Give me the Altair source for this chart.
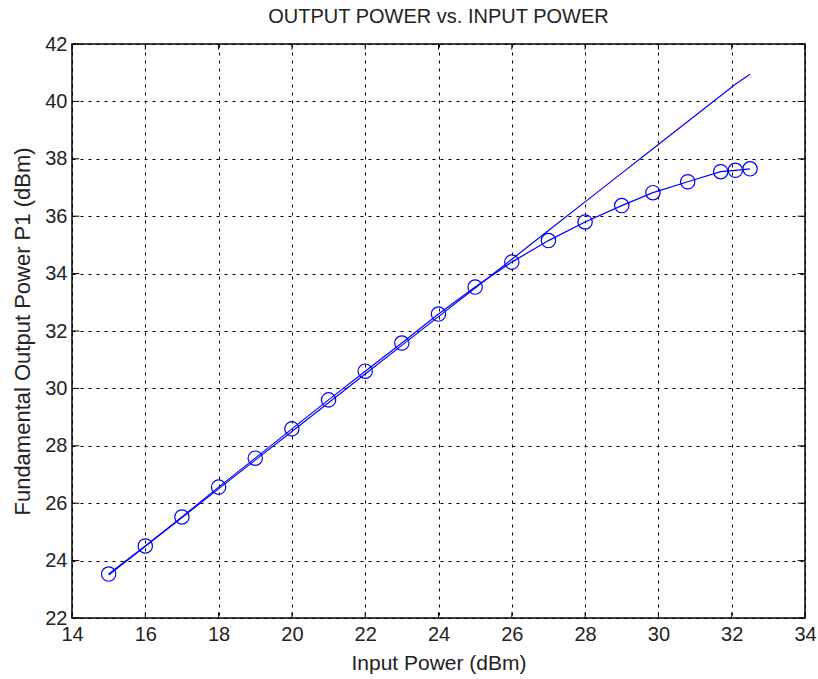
import altair as alt
import pandas as pd

# Measured (with markers)
pin = [15, 16, 17, 18, 19, 20, 21, 22, 23, 24, 25, 26, 27, 28, 29, 29.85, 30.8, 31.7, 32.1, 32.5]
pout = [23.53, 24.51, 25.52, 26.56, 27.57, 28.59, 29.6, 30.6, 31.58, 32.59, 33.53, 34.4,
        35.15, 35.8, 36.37, 36.82, 37.2, 37.55, 37.6, 37.65]
# Linear extrapolation (no markers)
lin_x = [15, 16, 17, 18, 19, 20, 21, 22, 23, 24, 25, 26, 27, 28, 29, 29.85, 30.8, 31.7, 32.1, 32.5]
lin_y = [23.5, 24.5, 25.5, 26.5, 27.5, 28.5, 29.5, 30.5, 31.5, 32.5, 33.5, 34.5,
         35.5, 36.5, 37.5, 38.35, 39.3, 40.2, 40.6, 40.95]

x_ticks = [14, 16, 18, 20, 22, 24, 26, 28, 30, 32, 34]
y_ticks = [22, 24, 26, 28, 30, 32, 34, 36, 38, 40, 42]

meas = pd.DataFrame({"x": pin, "y": pout})
lin = pd.DataFrame({"x": lin_x, "y": lin_y})

FONT = "Liberation Sans"
BLUE = "#0000FF"

xs = alt.Scale(domain=[14, 34], nice=False, zero=False)
ys = alt.Scale(domain=[22, 42], nice=False, zero=False)

xaxis = alt.Axis(values=x_ticks, grid=True, gridColor="black", gridDash=[3, 5], gridOpacity=1,
                 gridWidth=1, ticks=False, domain=False, labelFont=FONT, labelFontSize=20,
                 labelColor="#222222", labelPadding=6, title="Input Power (dBm)",
                 titleFont=FONT, titleFontSize=21, titleFontWeight="normal", titleColor="#222222",
                 titlePadding=8, labelFlush=False)
yaxis = alt.Axis(values=y_ticks, grid=True, gridColor="black", gridDash=[3, 5], gridOpacity=1,
                 gridWidth=1, ticks=False, domain=False, labelFont=FONT, labelFontSize=20,
                 labelColor="#222222", labelPadding=5, title="Fundamental Output Power P1 (dBm)",
                 titleFont=FONT, titleFontSize=22, titleFontWeight="normal", titleColor="#222222",
                 titlePadding=10, labelFlush=False)

base_lin = alt.Chart(lin).mark_line(color=BLUE, strokeWidth=1.2).encode(
    x=alt.X("x:Q", scale=xs, axis=xaxis),
    y=alt.Y("y:Q", scale=ys, axis=yaxis),
)
meas_line = alt.Chart(meas).mark_line(color=BLUE, strokeWidth=1.2).encode(
    x=alt.X("x:Q", scale=xs), y=alt.Y("y:Q", scale=ys))
meas_pts = alt.Chart(meas).mark_point(shape="circle", filled=False, color=BLUE, size=205,
                                      strokeWidth=1.2, opacity=1).encode(
    x=alt.X("x:Q", scale=xs), y=alt.Y("y:Q", scale=ys))

# inward ticks on all four sides
xt = pd.DataFrame({"x": x_ticks})
yt = pd.DataFrame({"y": y_ticks})
tick_bottom = alt.Chart(xt).mark_rule(color="black", strokeWidth=1).encode(
    x=alt.X("x:Q", scale=xs), y=alt.datum(22), y2=alt.datum(22.2))
tick_top = alt.Chart(xt).mark_rule(color="black", strokeWidth=1).encode(
    x=alt.X("x:Q", scale=xs), y=alt.datum(42), y2=alt.datum(41.8))
tick_left = alt.Chart(yt).mark_rule(color="black", strokeWidth=1).encode(
    y=alt.Y("y:Q", scale=ys), x=alt.datum(14), x2=alt.datum(14.2))
tick_right = alt.Chart(yt).mark_rule(color="black", strokeWidth=1).encode(
    y=alt.Y("y:Q", scale=ys), x=alt.datum(34), x2=alt.datum(33.8))

chart = alt.layer(base_lin, meas_line, meas_pts, tick_bottom, tick_top, tick_left, tick_right).properties(
    width=733, height=574,
    title=alt.TitleParams("OUTPUT POWER vs. INPUT POWER", font=FONT, fontSize=20,
                          fontWeight="normal", color="#222222", anchor="middle", offset=7),
    autosize=alt.AutoSizeParams(type="none"),
    padding={"left": 72, "top": 44, "right": 13, "bottom": 61},
    background="white",
).configure_view(stroke="black", strokeWidth=1.5)

chart.save("out.html", embed_options={"renderer": "svg", "actions": False})
